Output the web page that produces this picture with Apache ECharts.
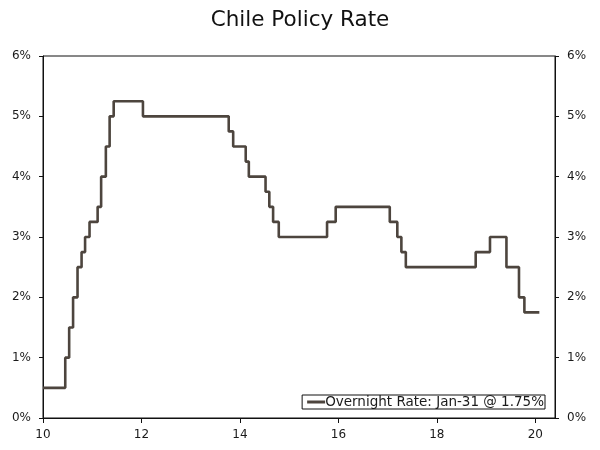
<!DOCTYPE html>
<html>
<head>
<meta charset="utf-8">
<script src="https://cdn.jsdelivr.net/npm/echarts@6/dist/echarts.min.js"></script>
<style>html,body{margin:0;padding:0;background:#fff}#c{width:600px;height:450px}</style>
</head>
<body>
<div id="c"></div>
<script>
var dates = ['2010-01-01','2010-06-15','2010-07-14','2010-08-12','2010-09-14','2010-10-14','2010-11-09','2010-12-12',
  '2011-02-10','2011-03-08','2011-04-12','2011-05-10','2011-06-09','2012-01-12','2013-10-10','2013-11-12',
  '2014-02-13','2014-03-08','2014-07-10','2014-08-07','2014-09-04','2014-10-16','2015-10-09','2015-12-12',
  '2017-01-17','2017-03-14','2017-04-13','2017-05-16','2018-10-16','2019-01-30','2019-06-01','2019-09-02',
  '2019-10-12','2020-01-31'];
var rates = [0.5,1.0,1.5,2.0,2.5,2.75,3.0,3.25,3.5,4.0,4.5,5.0,5.25,5.0,4.75,4.5,4.25,4.0,3.75,3.5,3.25,3.0,3.25,3.5,
  3.25,3.0,2.75,2.5,2.75,3.0,2.5,2.0,1.75,1.75];
var yTicks = [0,1,2,3,4,5,6];
var xTicks = [10,12,14,16,18,20];
var seriesName = 'Overnight Rate: Jan-31 @ 1.75%';

function toYear(s){
  var p = s.split('-').map(Number);
  var d = Date.UTC(p[0],p[1]-1,p[2]);
  var start = Date.UTC(p[0],0,1), end = Date.UTC(p[0]+1,0,1);
  return (p[0]-2000) + (d-start)/(end-start);
}
var data = dates.map(function(d,i){return [toYear(d), rates[i]];});

var font = 'DejaVu Sans';
var lbl = {fontFamily: font, fontSize: 12, color: '#1a1a1a'};
function yAxis(pos){
  return {
    type:'value', position:pos, min:0, max:6, interval:1,
    axisLine:{show:true, lineStyle:{color:'#111', width:1}},
    axisTick:{show:true, inside:false, length:4, lineStyle:{color:'#111'}},
    splitLine:{show:false},
    axisLabel:Object.assign({margin:12, formatter:function(v){return yTicks.indexOf(v)>=0 ? v+'%' : '';}}, lbl)
  };
}
var chart = echarts.init(document.getElementById('c'));
chart.setOption({
  backgroundColor:'#fff',
  animation:false,
  title:{text:'Chile Policy Rate', left:'center', top:4,
    textStyle:{fontFamily:font, fontSize:21.5, fontWeight:'normal', color:'#111'}},
  grid:{left:43, right:45, top:56, bottom:32, show:true, borderColor:'#111', borderWidth:1, backgroundColor:'transparent'},
  legend:{right:55, bottom:41, orient:'horizontal', backgroundColor:'#fff', borderColor:'#111', borderWidth:1,
    padding:[0,1,0,5], itemWidth:18, itemHeight:3, icon:'rect', itemGap:0,
    textStyle:{fontFamily:font, fontSize:13.5, color:'#1a1a1a', padding:[0,0,0,-5]},
    data:[{name:seriesName, icon:'rect'}]},
  xAxis:{type:'value', min:10, max:20.4, interval:2,
    axisLine:{show:true, onZero:false, lineStyle:{color:'#111'}},
    axisTick:{show:true, length:5, lineStyle:{color:'#111'}},
    splitLine:{show:false},
    axisLabel:Object.assign({margin:11, showMaxLabel:false, formatter:function(v){return xTicks.indexOf(v)>=0 ? String(v) : '';}}, lbl)
  },
  yAxis:[yAxis('left'), yAxis('right')],
  series:[{name:seriesName, type:'line', step:'end', data:data, showSymbol:false, symbol:'none',
    lineStyle:{color:'#4d453e', width:2.6}, itemStyle:{color:'#4d453e'}}]
});
</script>
</body>
</html>
